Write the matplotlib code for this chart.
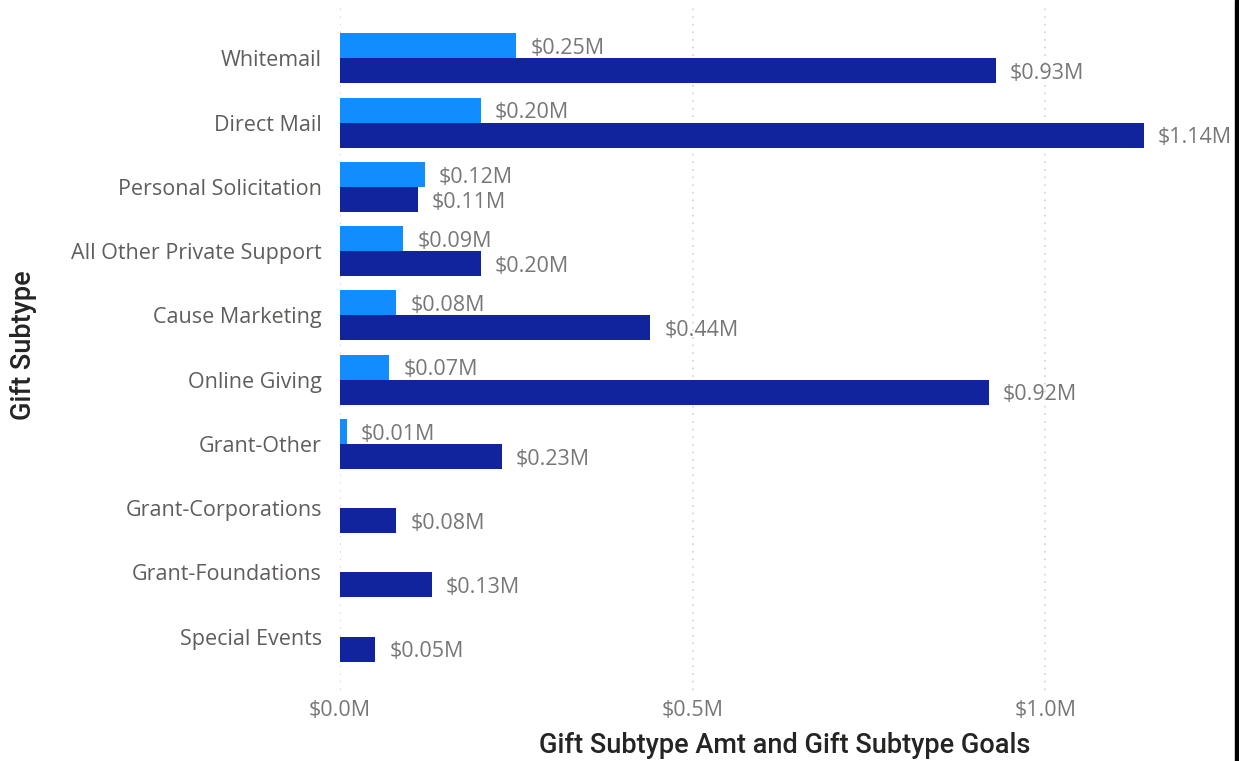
import numpy as np
import matplotlib.pyplot as plt
from matplotlib.patches import Rectangle
from matplotlib.ticker import FuncFormatter

subtypes = ["Whitemail", "Direct Mail", "Personal Solicitation",
            "All Other Private Support", "Cause Marketing", "Online Giving",
            "Grant-Other", "Grant-Corporations", "Grant-Foundations",
            "Special Events"]
# millions of dollars; nan = no amount recorded
amt = [0.25, 0.20, 0.12, 0.09, 0.08, 0.07, 0.01, np.nan, np.nan, np.nan]
goals = [0.93, 1.14, 0.11, 0.20, 0.44, 0.92, 0.23, 0.08, 0.13, 0.05]
xticks = [0.0, 0.5, 1.0]

light = "#118DFF"
dark = "#12239E"
label_grey = "#605E5C"
value_grey = "#777777"

plt.rcParams['font.family'] = ['Open Sans', 'DejaVu Sans']

fig = plt.figure(figsize=(12.39, 7.61), dpi=100)
ax = fig.add_axes([0.2744, 0.0933, 0.683, 0.9001])

y = np.arange(len(subtypes))
h = 0.39
ax.barh(y - h / 2, amt, height=h, color=light, zorder=3)
ax.barh(y + h / 2, goals, height=h, color=dark, zorder=3)

# value labels just past each bar end
for yi, v in zip(y, amt):
    if not np.isnan(v):
        ax.annotate(f"${v:.2f}M", (v, yi - h / 2), xytext=(10, -2),
                    textcoords="offset points", va="center", ha="left",
                    fontsize=15.5, color=value_grey, clip_on=False)
for yi, v in zip(y, goals):
    ax.annotate(f"${v:.2f}M", (v, yi + h / 2), xytext=(10, -2),
                textcoords="offset points", va="center", ha="left",
                fontsize=15.5, color=value_grey, clip_on=False)

ax.set_xlim(0, 1.2)
ax.set_ylim(9.83, -0.83)
ax.set_yticks(y)
ax.set_yticklabels(subtypes, fontsize=15.5, color=label_grey)
ax.set_xticks(xticks)
ax.xaxis.set_major_formatter(FuncFormatter(lambda v, _: f"${v:.1f}M"))
ax.tick_params(axis='x', labelsize=15.5, labelcolor=value_grey, length=0, pad=7)
ax.tick_params(axis='y', length=0, pad=13)
ax.grid(axis='x', linestyle=(0, (1, 4)), color="#CCCCCC", linewidth=1.1, zorder=0)
for s in ax.spines.values():
    s.set_visible(False)

ax.set_xlabel("Gift Subtype Amt and Gift Subtype Goals", fontsize=19.5,
              color="#252423", family=['Roboto', 'DejaVu Sans'],
              fontweight='medium', va='center')
ax.xaxis.set_label_coords(0.525, -0.081)
fig.text(0.019, 0.547, "Gift Subtype", rotation=90, ha="center", va="center",
         fontsize=19.5, color="#252423", family=['Roboto', 'DejaVu Sans'],
         fontweight='medium')

# dark frame edge on the right side
fig.add_artist(Rectangle((1235 / 1239, 0), 4 / 1239, 1, transform=fig.transFigure,
                         color="black", zorder=10))

fig.savefig("out.png", dpi=100)
